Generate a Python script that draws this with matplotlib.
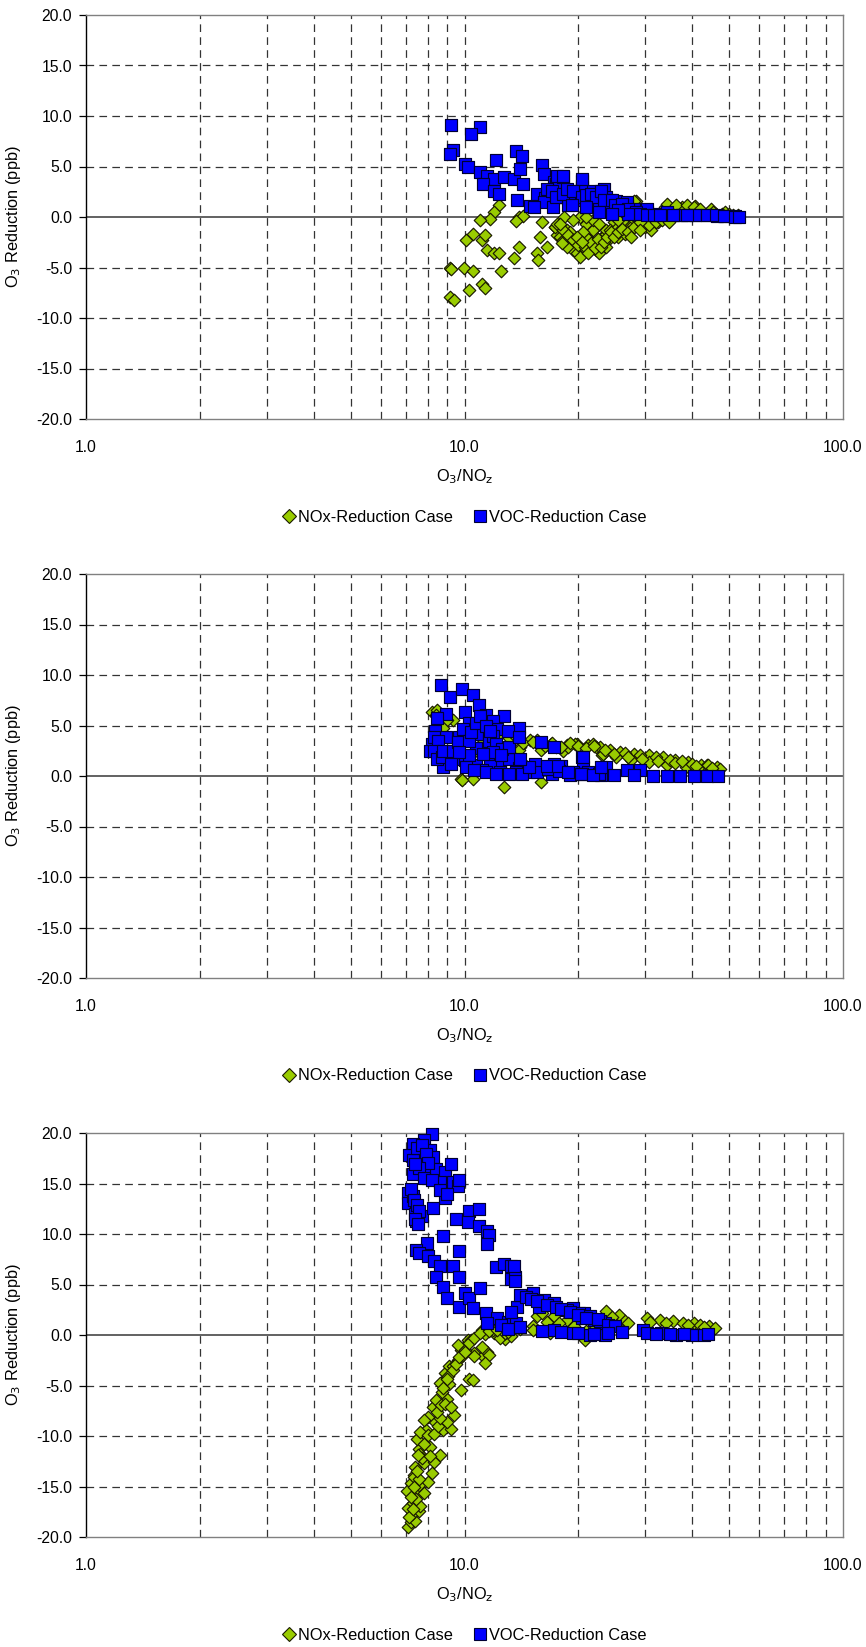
import matplotlib
matplotlib.use("Agg")
import matplotlib.pyplot as plt
from matplotlib.ticker import FixedLocator, NullFormatter, FuncFormatter
from matplotlib.lines import Line2D

plt.rcParams['font.family'] = ['Liberation Sans', 'DejaVu Sans']
plt.rcParams['lines.scale_dashes'] = False

# ---------------- data ----------------
# Panel 1
p1_voc_x = [9.2, 11.0, 10.4, 9.3, 9.15, 12.1, 13.7, 14.2, 10.0, 10.2, 11.0, 11.5, 12.0, 12.7, 13.5,
            14.0, 11.2, 12.0, 12.3, 14.3, 13.8, 14.9, 15.5, 16.0, 16.2, 16.3, 17.2, 18.0, 17.4, 17.7,
            17.4, 18.2, 20.4, 20.4, 19.4, 19.2, 20.9, 21.9, 23.1, 24.2, 25.8, 26.9, 28.2, 30.3, 34.2,
            37.5, 40.6, 43.6, 46.4, 48.8, 51.8, 21.0, 22.7, 25.2, 28.0, 23.7, 31.7, 16.2, 17.9, 18.8,
            20.3, 17.1, 23.3, 23.6, 25.2, 26.8, 28.5, 30.4, 34.2, 37.5, 40.7, 43.6, 46.2, 48.4, 51.7, 53.2]
p1_voc_y = [9.1, 8.9, 8.2, 6.6, 6.2, 5.6, 6.5, 6.0, 5.2, 5.0, 4.5, 4.1, 3.8, 4.0, 3.8,
            4.8, 3.3, 2.6, 2.3, 3.3, 1.7, 1.1, 2.3, 5.1, 4.3, 1.9, 3.5, 4.0, 2.6, 2.0,
            3.3, 4.0, 3.6, 3.0, 2.6, 2.0, 1.8, 2.6, 2.3, 1.7, 1.3, 1.2, 0.7, 0.5, 0.3,
            0.2, 0.15, 0.15, 0.1, 0.05, 0.05, 1.0, 1.3, 1.0, 0.8, 0.7, 0.3, 1.5, 2.0, 1.2,
            1.7, 1.0, 2.8, 2.0, 1.6, 1.5, 0.5, 0.8, 0.5, 0.2, 0.15, 0.15, 0.15, 0.07, 0.0, 0.0]
p1_voc_x_b = [17.6, 18.2, 20.4, 16.5, 17.0, 17.4, 18.2, 18.6, 19.4, 20.4, 21.0, 21.6, 22.3, 22.9,
              23.4, 24.5, 25.0, 26.0, 27.1, 28.3, 29.0, 27.1, 25.5, 30.3, 31.6, 32.9, 35.6, 38.7,
              15.3, 19.2, 20.9, 22.7, 24.5]
p1_voc_y_b = [4.1, 4.1, 3.8, 2.8, 2.6, 2.0, 2.3, 2.8, 2.6, 2.0, 2.2, 2.3, 2.0, 2.6,
              1.7, 1.7, 1.2, 1.3, 0.8, 0.5, 0.3, 0.3, 0.7, 0.15, 0.15, 0.15, 0.15, 0.15,
              1.0, 1.2, 1.0, 0.5, 0.3]

p1_nox_x = [12.3, 12.0, 11.7, 11.0, 13.96, 14.3, 13.7, 16.0, 15.8, 17.3, 18.3, 17.6, 16.5, 15.5, 15.6,
            13.5, 13.9, 12.5, 10.55, 10.1, 11.1, 11.3, 11.5, 12.0, 12.3, 9.16, 9.2, 9.97, 10.5, 9.16,
            9.4, 10.3, 11.1, 11.3,
            17.3, 17.9, 18.6, 19.0, 19.4, 19.8, 20.4, 21.0, 21.4, 22.3, 22.7, 23.1, 23.6, 24.5, 25.5,
            26.5, 27.6, 28.7, 29.9, 31.1, 32.4, 33.8, 35.2, 37.5, 39.1, 40.7, 43.5, 46.2, 49.1, 51.1,
            20.2, 21.0, 22.3, 23.6, 28.3, 24.9, 19.0, 18.2, 21.0, 21.9, 24.0, 25.5, 23.6, 22.7, 20.2,
            26.5, 27.6, 29.9, 31.1, 24.2, 25.5, 27.4, 29.2, 31.0, 34.2, 34.5, 37.0, 40.7, 44.8, 48.9,
            52.7, 28.0]
p1_nox_y = [1.2, 0.5, -0.2, -0.3, 0.0, 0.05, -0.4, -0.5, -2.0, -1.0, 0.0, -1.8, -3.0, -3.6, -4.3,
            -4.1, -3.0, -5.3, -1.7, -2.3, -2.3, -1.8, -3.3, -3.6, -3.6, -5.0, -5.1, -5.0, -5.3, -7.9,
            -8.2, -7.2, -6.6, -7.0,
            -1.0, -2.0, -1.3, -2.6, -3.3, -3.6, -3.0, -3.3, -2.3, -3.3, -2.6, -2.0, -1.7, -1.3, -1.0,
            -0.7, -0.8, -0.3, -0.3, -0.7, -0.5, 1.0, 0.7, 1.0, 0.8, 0.7, 0.3, 0.3, 0.3, 0.2,
            0.0, -0.7, -1.0, -1.3, 1.6, -0.5, -1.5, -2.3, -2.0, -1.3, -2.3, -2.0, -3.0, -3.6, -4.0,
            -1.7, -1.3, -1.0, -1.3, -1.3, -1.0, -1.1, -0.65, -0.5, 1.3, -0.3, 0.8, 1.1, 0.8, 0.5,
            0.15, 1.6]
p1_nox_x_b = [17.6, 18.2, 18.8, 19.4, 19.9, 20.8, 21.2, 21.6, 22.1, 22.5, 22.9, 23.4, 23.8, 24.4,
              24.9, 25.4, 26.0, 27.1, 28.0, 29.5, 30.7, 32.0, 33.3, 34.8, 36.3, 38.7, 40.3, 42.0,
              45.3, 48.0, 50.0, 20.6, 19.8, 20.4, 18.6, 18.1, 17.9, 19.4, 21.8, 21.0, 22.7, 25.5,
              29.0, 27.6, 29.0]
p1_nox_y_b = [-0.7, -1.3, -1.8, -2.3, -2.8, -3.0, -3.6, -2.6, -3.1, -2.2, -3.0, -2.5, -2.0, -1.5,
              -2.0, -1.5, -1.2, -1.5, -1.0, -0.7, -0.8, -0.5, -0.3, -0.5, 1.2, 1.2, 1.0, 0.8,
              0.5, 0.3, 0.3, -1.5, -2.0, -2.5, -3.0, -2.6, -0.7, -0.3, -0.3, 0.0, -0.7, -0.3,
              -0.5, -2.0, -1.3]

# Panel 2
p2_voc_x = [8.65, 9.16, 9.83, 10.5, 10.9, 10.0, 11.4, 12.7, 13.9, 8.96, 8.45, 8.37, 8.96, 8.2, 8.5,
            9.16, 9.6, 10.0, 10.7, 11.7, 12.4, 13.1, 13.9, 15.4, 15.9, 17.2, 17.0, 18.0, 20.4, 20.6,
            22.0, 23.0, 11.9, 10.3, 11.1, 10.8, 9.7, 10.7, 11.6, 12.2, 13.0, 11.7, 12.4, 13.7, 14.8,
            15.5, 16.6, 17.8, 19.4, 21.2, 19.0, 8.8, 8.1, 11.1,
            23.7, 24.8, 26.8, 29.0, 31.5, 34.2, 37.1, 40.3, 43.6, 46.8, 28.0, 22.6, 20.4, 17.2, 20.6]
p2_voc_y = [9.0, 7.8, 8.6, 8.0, 7.0, 6.3, 6.0, 5.9, 4.8, 6.1, 5.7, 4.5, 3.9, 3.2, 2.05,
            1.7, 1.7, 1.55, 1.05, 1.2, 1.2, 1.7, 0.75, 1.2, 3.4, 2.9, 0.23, 0.96, 1.9, 0.9,
            0.2, 0.06, 5.4, 5.2, 4.2, 4.2, 3.9, 2.8, 3.5, 4.7, 4.5, 1.0, 0.4, 0.4, 0.4,
            0.4, 0.7, 0.5, 0.4, 0.4, 0.06, 0.9, 2.5, 0.55,
            0.9, 0.06, 0.56, 0.56, 0.0, 0.0, 0.0, 0.0, 0.0, 0.0, 0.06, 0.23, 0.23, 1.2, 1.9]
p2_voc_x_b = [8.3, 8.5, 8.3, 8.45, 8.7, 8.8, 9.3, 9.6, 9.9, 10.3, 10.4, 10.7, 11.0, 11.4, 11.9,
              12.1, 12.6, 11.9, 11.2, 10.3, 9.7, 10.1, 10.6, 11.4, 12.1, 13.1, 14.2, 14.8, 16.5,
              17.7, 18.8, 20.3, 21.8, 23.0, 9.2, 13.1, 12.5, 14.0, 11.7, 13.9]
p2_voc_y_b = [3.9, 3.5, 2.5, 1.7, 1.9, 2.5, 2.5, 3.4, 4.7, 3.5, 4.4, 5.2, 5.9, 5.0, 4.0,
              3.2, 2.7, 2.4, 2.2, 2.1, 2.4, 0.9, 0.6, 0.4, 0.2, 0.2, 0.2, 0.9, 1.0,
              1.0, 0.4, 0.2, 0.06, 0.9, 1.2, 2.9, 2.05, 1.7, 4.5, 3.9]

p2_nox_x = [8.19, 8.45, 9.3, 9.8, 11.2, 12.2, 14.0, 11.7, 9.8, 10.5, 12.7, 15.9, 13.9, 15.5, 17.5,
            18.6, 19.8, 21.2, 22.2, 23.1, 13.1, 14.9, 16.9, 18.2, 15.9,
            22.8, 24.2, 25.8, 28.1, 30.7, 33.5, 35.9, 38.9, 42.2, 43.6, 46.4, 47.4, 21.8, 19.6, 18.8,
            23.2, 25.2, 27.5, 30.7, 34.2, 38.5, 9.83]
p2_nox_y = [6.35, 6.5, 5.5, 3.2, 3.55, 4.0, 2.9, 3.5, -0.26, -0.26, -1.1, -0.6, 2.55, 3.6, 2.9,
            3.1, 3.2, 3.1, 2.9, 2.1, 3.8, 3.6, 3.2, 2.5, 2.55,
            2.9, 2.55, 2.4, 2.2, 2.05, 1.9, 1.55, 1.4, 1.06, 1.06, 0.9, 0.7, 3.2, 3.2, 2.9,
            2.2, 1.9, 1.55, 1.4, 1.06, 0.9, -0.43]
p2_nox_x_b = [14.3, 15.2, 16.3, 17.0, 18.0, 19.0, 20.0, 21.0, 22.0, 23.5, 24.8, 26.5, 27.0, 29.0,
              29.5, 32.0, 32.5, 35.0, 36.0, 37.5, 40.0, 41.0, 44.0, 45.0, 12.0, 10.0, 9.0, 8.4,
              8.8, 10.8, 12.5, 14.5, 16.0, 18.5, 11.5, 13.5]
p2_nox_y_b = [3.3, 3.4, 3.0, 3.3, 2.9, 3.3, 3.0, 2.8, 3.0, 2.6, 2.2, 2.3, 1.9, 2.1,
              1.7, 1.9, 1.5, 1.6, 1.3, 1.5, 1.2, 1.0, 1.1, 0.8, 3.0, 4.5, 5.5, 6.0,
              4.8, 2.5, 1.5, 1.0, 0.6, 0.3, 4.0, 4.1]

# Panel 3
p3_voc_x = [8.19, 7.8, 7.3, 7.15, 7.6, 8.1, 8.25, 7.45, 7.95, 7.3, 8.4, 8.9, 9.2, 8.6, 9.3,
            9.6, 9.7, 7.1, 7.1, 7.3, 7.45, 7.45, 7.4, 7.7, 8.9, 8.25, 9.5, 10.3, 10.9, 10.2,
            10.9, 11.5, 11.6, 11.5, 8.8, 9.7, 7.95, 7.45, 7.6, 8.0, 8.3, 8.6, 9.3, 9.7, 8.4,
            8.8, 9.0, 9.7, 10.0, 10.3, 11.0, 10.5, 11.4, 12.2, 11.5, 12.1, 12.7, 13.3, 13.3, 13.6,
            13.0, 13.7, 13.8, 13.3,
            13.5, 13.6, 15.2, 16.2, 17.2, 19.4, 20.7, 22.0, 23.5, 17.2, 19.4, 21.4, 23.5, 29.7, 30.3,
            33.1, 36.2, 40.0, 42.8, 18.6, 20.1, 15.7, 21.4, 22.8, 20.5]
p3_voc_y = [19.9, 19.3, 18.9, 17.8, 18.3, 18.3, 17.6, 17.0, 16.1, 15.95, 16.4, 16.1, 16.95, 15.1, 15.1,
            14.8, 15.3, 14.1, 13.1, 13.8, 12.6, 11.3, 12.0, 11.8, 13.6, 12.6, 11.5, 12.3, 12.5, 11.2,
            10.8, 10.3, 9.9, 9.0, 9.8, 8.3, 9.1, 8.45, 8.1, 7.8, 7.3, 6.8, 6.8, 5.7, 5.7,
            4.8, 3.7, 2.8, 4.2, 3.7, 4.7, 2.7, 2.2, 1.7, 1.2, 6.7, 7.0, 6.8, 5.5, 5.7,
            1.3, 1.2, 2.8, 2.3,
            6.8, 5.3, 4.2, 3.5, 3.2, 2.7, 2.2, 1.5, 1.2, 0.52, 0.2, 0.03, 0.03, 0.52, 0.2,
            0.2, 0.03, 0.03, 0.03, 2.5, 2.2, 2.8, 1.9, 1.4, 1.7]
p3_voc_x_b = [7.3, 7.5, 7.7, 7.9, 8.0, 7.6, 7.4, 7.8, 8.2, 7.2, 7.35, 7.5, 7.6, 7.4, 7.55, 8.6,
              9.0, 14.0, 14.5, 15.0, 15.5, 16.5, 17.5, 18.0, 19.0, 20.0, 21.0, 22.5, 24.0, 25.0,
              16.0, 18.0, 20.0, 22.0, 24.0, 26.0, 32.0, 35.0, 38.0, 44.0, 12.5, 13.0, 14.0]
p3_voc_y_b = [17.3, 18.5, 18.8, 17.9, 17.0, 16.5, 16.9, 15.5, 15.3, 14.5, 13.4, 12.9, 12.3, 11.5,
              11.0, 14.4, 14.0, 4.0, 3.8, 3.6, 3.4, 3.0, 2.8, 2.6, 2.3, 2.0, 1.7, 1.6, 1.0, 0.9,
              0.4, 0.3, 0.2, 0.1, 0.2, 0.3, 0.1, 0.1, 0.05, 0.05, 1.0, 0.6, 0.8]

p3_nox_x = [7.1, 7.2, 7.4, 7.25, 7.6, 7.1, 7.3, 7.65, 7.05, 7.5, 7.8, 7.2, 7.6, 7.35, 8.0,
            8.2, 7.4, 7.8, 8.3, 8.6, 8.1, 7.6, 7.5, 7.9, 7.65, 8.8, 9.2, 9.0, 9.4, 8.35,
            8.0, 8.25, 9.0, 10.3, 9.1, 8.75, 8.9, 9.1, 9.6, 9.9, 9.8, 10.1, 10.2, 10.6, 11.2,
            11.5, 11.1, 11.3, 12.0, 12.6, 12.8, 13.3, 8.6, 8.7, 8.4, 7.8, 7.65, 7.35, 9.6,
            15.5, 16.0, 15.2, 12.4, 12.8, 17.2, 18.6, 21.0, 23.7, 25.6, 26.5, 20.8, 30.3, 32.8, 35.6,
            37.8, 40.3, 41.8, 44.2, 45.9, 15.2, 13.5, 16.8, 22.8, 25.2,
            11.1, 11.9, 12.8, 10.4, 10.0, 10.6, 11.6, 11.3, 9.3, 9.05, 10.5, 9.8]
p3_nox_y = [-19.0, -18.5, -18.4, -17.7, -17.4, -17.1, -16.6, -16.9, -15.4, -15.7, -15.6, -14.7, -14.9, -13.9, -14.6,
            -13.7, -13.1, -12.7, -12.6, -11.9, -11.1, -11.3, -10.3, -9.4, -9.6, -9.4, -9.3, -8.6, -7.9, -8.6,
            -8.1, -7.1, -6.3, -4.4, -4.9, -4.6, -3.8, -3.1, -2.5, -2.0, -1.5, -1.0, -0.5, -1.8, -2.1,
            -1.7, -1.2, 0.07, 0.23, 0.07, -0.4, -0.07, -4.8, -5.6, -6.4, -8.4, -11.8, -14.1, -1.0,
            1.85, 2.2, 0.9, -0.3, 0.2, 1.85, 1.5, 0.35, 2.35, 2.0, 1.35, -0.45, 1.68, 1.5, 1.35,
            1.2, 1.2, 1.02, 0.85, 0.7, 0.52, 0.85, 0.2, 0.52, 0.85,
            0.54, 0.54, 0.2, -0.47, -1.47, -2.1, -2.0, -2.8, -3.1, -4.1, -4.45, -5.45]
p3_nox_x_b = [7.15, 7.3, 7.45, 7.2, 7.35, 7.6, 7.5, 7.7, 7.55, 8.1, 7.8, 8.0, 8.3, 8.5, 8.6,
              8.45, 8.65, 8.9, 9.2, 8.8, 9.0, 9.3, 9.5, 9.7, 10.0, 10.3, 10.6, 11.0, 11.6, 12.2,
              13.0, 14.0, 16.5, 17.8, 19.5, 22.0, 24.5, 27.0, 31.0, 34.0, 39.0, 43.0]
p3_nox_y_b = [-18.0, -17.2, -16.2, -16.0, -15.0, -14.3, -13.5, -12.2, -11.9, -12.0, -10.8, -9.9,
              -9.8, -9.0, -8.2, -7.6, -6.9, -6.8, -7.1, -5.2, -4.4, -3.5, -2.9, -2.2, -1.7, -0.8,
              -0.3, 0.2, 0.4, 0.5, 0.3, 0.6, 1.3, 1.2, 0.9, 0.6, 1.8, 1.2, 1.3, 1.2, 1.0, 0.8]

panels = [(p1_nox_x + p1_nox_x_b, p1_nox_y + p1_nox_y_b, p1_voc_x + p1_voc_x_b, p1_voc_y + p1_voc_y_b),
          (p2_nox_x + p2_nox_x_b, p2_nox_y + p2_nox_y_b, p2_voc_x + p2_voc_x_b, p2_voc_y + p2_voc_y_b),
          (p3_nox_x + p3_nox_x_b, p3_nox_y + p3_nox_y_b, p3_voc_x + p3_voc_x_b, p3_voc_y + p3_voc_y_b)]

y_ticks = [-20, -15, -10, -5, 0, 5, 10, 15, 20]
x_major = [1, 10, 100]
x_grid = [2, 3, 4, 5, 6, 7, 8, 9, 10, 20, 30, 40, 50, 60, 70, 80, 90]
legend_labels = ['NOx-Reduction Case', 'VOC-Reduction Case']

# ---------------- figure ----------------
W, H = 866, 1647
fig = plt.figure(figsize=(W / 100, H / 100), dpi=100)

axes_tops = [15, 574, 1133]
ax_left, ax_right = 86, 843
ax_h = 404

green = '#99CC00'
blue = '#0000FF'
dash = (0, (5.5, 3.8))
fs = 11.3

for (nx, ny, vx, vy), top in zip(panels, axes_tops):
    ax = fig.add_axes([ax_left / W, 1 - (top + ax_h) / H, (ax_right - ax_left) / W, ax_h / H])
    ax.set_xscale('log')
    ax.set_xlim(1, 100)
    ax.set_ylim(-20, 20)

    # grid lines
    for gx in x_grid:
        ax.axvline(gx, color='#333333', lw=0.9, ls=dash, zorder=1)
    for gy in [-15, -10, -5, 5, 10, 15]:
        ax.axhline(gy, color='#333333', lw=0.9, ls=dash, zorder=1)
    ax.axhline(0, color='#555555', lw=1.3, zorder=1.5)

    ax.scatter(nx, ny, marker='D', s=6.4 ** 2, c=green, edgecolors='#1a1a00',
               linewidths=0.85, zorder=3, clip_on=False)
    ax.scatter(vx, vy, marker='s', s=8.3 ** 2, c=blue, edgecolors='#000033',
               linewidths=0.85, zorder=4, clip_on=False)

    # axes styling
    for side in ['top', 'right', 'bottom']:
        ax.spines[side].set_color('#808080')
        ax.spines[side].set_linewidth(1.0)
    ax.spines['left'].set_color('black')
    ax.spines['left'].set_linewidth(1.0)

    ax.yaxis.set_major_locator(FixedLocator(y_ticks))
    ax.yaxis.set_major_formatter(FuncFormatter(lambda v, p: f'{v:.1f}'))
    ax.tick_params(axis='y', direction='out', length=5, width=0.9, pad=5,
                   labelsize=fs, colors='black')
    ax.xaxis.set_major_locator(FixedLocator(x_major))
    ax.xaxis.set_major_formatter(FuncFormatter(lambda v, p: f'{v:.1f}'))
    ax.xaxis.set_minor_formatter(NullFormatter())
    ax.tick_params(axis='x', which='both', length=0, pad=15, labelsize=fs)

    ax.text(0.5, -58 / ax_h, r'O$_3$/NO$_\mathrm{z}$', transform=ax.transAxes,
            ha='center', va='center', fontsize=fs + 0.5)
    ax.text(-72 / (ax_right - ax_left), 0.5, r'O$_3$ Reduction (ppb)', transform=ax.transAxes,
            ha='center', va='center', rotation=90, fontsize=fs + 0.5)

    handles = [Line2D([], [], ls='none', marker='D', ms=7.4, mfc=green, mec='#1a1a00', mew=0.8),
               Line2D([], [], ls='none', marker='s', ms=9.2, mfc=blue, mec='#000033', mew=0.8)]
    ax.legend(handles, legend_labels, loc='center', bbox_to_anchor=(0.5, -98 / ax_h),
              ncol=2, frameon=False, fontsize=fs + 0.5, handlelength=0.8, handletextpad=0.2,
              columnspacing=1.2, borderaxespad=0)

fig.savefig('out.png', dpi=100)
